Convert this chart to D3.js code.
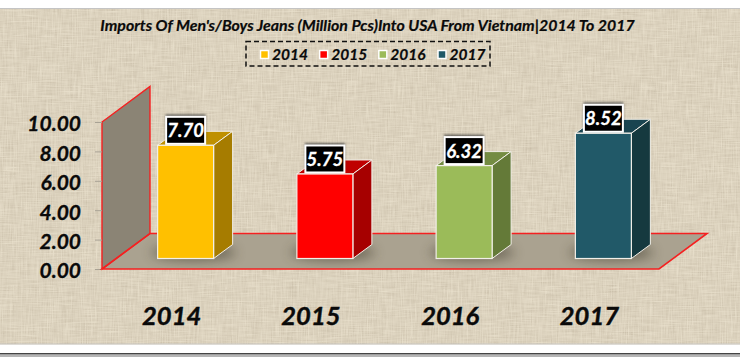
<!DOCTYPE html>
<html>
<head>
<meta charset="utf-8">
<script src="https://cdn.jsdelivr.net/npm/d3@7"></script>
<style>
html, body { margin: 0; padding: 0; background: #fff; overflow: hidden; }
svg { display: block; }
text { font-family: Lato, "Open Sans", sans-serif; font-weight: 700; font-style: italic; fill: #0a0a0a; }
</style>
</head>
<body>
<svg width="740" height="357"></svg>
<script>
// Chart data
var years = ['2014', '2015', '2016', '2017'];
var imports = [7.70, 5.75, 6.32, 8.52];
var colors = ['#ffc000', '#ff0000', '#9bbb59', '#215968'];
var sideColors = ['#a67c00', '#a60000', '#647a38', '#15393f'];
var topColors = ['#bf9000', '#bf0000', '#748c42', '#1a4450'];
var yTicks = [0, 2, 4, 6, 8, 10];
var titleText = "Imports Of Men's/Boys Jeans (Million Pcs)Into USA From Vietnam|2014 To 2017";

var svg = d3.select('svg');
var defs = svg.append('defs');

// Layout parameters
var floorDepth = {x: 48, y: 35.5};
var barDepth = {x: 19, y: 14};
var barOffset = {x: 14, y: 10.5};

var xScale = d3.scaleBand().domain(years).range([102, 659]).paddingInner(0).paddingOuter(0);
var yScale = d3.scaleLinear().domain([0, 10]).range([269, 122]);
var barWidth = 56;

// Linen texture for the background and the walls
var linen = defs.append('filter').attr('id', 'linen')
    .attr('x', 0).attr('y', 0).attr('width', '100%').attr('height', '100%');
linen.append('feTurbulence').attr('type', 'fractalNoise')
    .attr('baseFrequency', '0.05 0.8').attr('numOctaves', 2).attr('seed', 4).attr('result', 'h');
linen.append('feTurbulence').attr('type', 'fractalNoise')
    .attr('baseFrequency', '0.8 0.05').attr('numOctaves', 2).attr('seed', 9).attr('result', 'v');
linen.append('feBlend').attr('in', 'h').attr('in2', 'v').attr('mode', 'multiply').attr('result', 'm');
linen.append('feColorMatrix').attr('in', 'm').attr('type', 'matrix')
    .attr('values', '0 0 0 0 0.5  0 0 0 0 0.43  0 0 0 0 0.32  1.05 0 0 0 -0.2');

var soft = defs.append('filter').attr('id', 'soft')
    .attr('x', '-50%').attr('y', '-100%').attr('width', '200%').attr('height', '300%');
soft.append('feGaussianBlur').attr('stdDeviation', 6);

var labelShadow = defs.append('filter').attr('id', 'labelShadow')
    .attr('x', '-30%').attr('y', '-30%').attr('width', '160%').attr('height', '160%');
labelShadow.append('feGaussianBlur').attr('stdDeviation', 1.2);

// Page frame
svg.append('rect').attr('x', 0).attr('y', 9).attr('width', 740).attr('height', 334.5).attr('fill', '#e6ddc9');
svg.append('rect').attr('x', 0).attr('y', 9).attr('width', 740).attr('height', 334.5)
    .attr('fill', '#000').attr('filter', 'url(#linen)');
svg.append('rect').attr('x', 0).attr('y', 8).attr('width', 740).attr('height', 1).attr('fill', '#c4c4c4');
svg.append('rect').attr('x', 0).attr('y', 343.5).attr('width', 740).attr('height', 1).attr('fill', '#bdb8ab');
svg.append('rect').attr('x', 0).attr('y', 353).attr('width', 740).attr('height', 1.6).attr('fill', '#444');
svg.append('rect').attr('x', 0).attr('y', 354.6).attr('width', 740).attr('height', 2.4).attr('fill', '#b5b5b5');

// Back wall and floor
var x0 = xScale.range()[0], x1 = xScale.range()[1];
var y0 = yScale(0), yTop = yScale(10);

function poly(points) {
    return points.map(function(p) { return p.join(','); }).join(' ');
}

var floorPts = [[x0, y0], [x0 + floorDepth.x, y0 - floorDepth.y], [x1 + floorDepth.x, y0 - floorDepth.y], [x1, y0]];
var wallPts = [[x0, y0], [x0, yTop], [x0 + floorDepth.x, yTop - floorDepth.y], [x0 + floorDepth.x, y0 - floorDepth.y]];

defs.append('clipPath').attr('id', 'floorClip')
    .append('polygon').attr('points', poly(floorPts));

svg.append('polygon').attr('points', poly(floorPts))
    .attr('fill', '#aaa290');
svg.append('polygon').attr('points', poly(wallPts))
    .attr('fill', '#8b8475').attr('stroke', '#f52020').attr('stroke-width', 1.4);

// Axes
var yAxisG = svg.append('g').attr('class', 'y axis')
    .attr('transform', 'translate(' + x0 + ',0)')
    .call(d3.axisLeft(yScale).tickValues(yTicks).tickFormat(d3.format('.2f')).tickSize(7).tickPadding(14));
yAxisG.select('.domain').remove();
yAxisG.selectAll('line').attr('stroke', '#a8a294');
yAxisG.selectAll('text').attr('font-size', 21).attr('fill', '#0a0a0a').attr('dy', '0.42em')
    .attr('stroke', '#0a0a0a').attr('stroke-width', 0.3);

var xAxisG = svg.append('g').attr('class', 'x axis')
    .attr('transform', 'translate(0,' + y0 + ')')
    .call(d3.axisBottom(xScale).tickSize(0).tickPadding(38));
xAxisG.select('.domain').remove();
xAxisG.selectAll('text').attr('font-size', 25.5).attr('fill', '#0a0a0a')
    .attr('stroke', '#0a0a0a').attr('stroke-width', 0.4);

// Bars
var rows = years.map(function(year, i) {
    return {year: year, value: imports[i], color: colors[i], side: sideColors[i], top: topColors[i]};
});

function front(d) {
    var left = xScale(d.year) + xScale.bandwidth() / 2 + barOffset.x - barWidth / 2;
    return {l: left, r: left + barWidth, b: y0 - barOffset.y, t: yScale(d.value) - barOffset.y};
}

// Soft shadow on the floor
svg.append('g')
    .attr('clip-path', 'url(#floorClip)')
    .selectAll('ellipse')
    .data(rows)
    .enter()
    .append('ellipse')
    .attr('cx', function(d) { return front(d).l + barWidth / 2 + 8; })
    .attr('cy', function(d) { return front(d).b - 6; })
    .attr('rx', barWidth / 2 + 14)
    .attr('ry', 8)
    .attr('fill', '#4a4434')
    .attr('opacity', 0.62)
    .attr('filter', 'url(#soft)');

// Red outline goes on top of the floor shadow
svg.append('polygon').attr('points', poly(floorPts))
    .attr('fill', 'none').attr('stroke', '#f52020').attr('stroke-width', 1.6);

var barG = svg.selectAll('.bar')
    .data(rows)
    .enter()
    .append('g')
    .attr('class', 'bar');

barG.append('polygon')
    .attr('points', function(d) {
        var f = front(d);
        return poly([[f.l, f.t], [f.l + barDepth.x, f.t - barDepth.y], [f.r + barDepth.x, f.t - barDepth.y], [f.r, f.t]]);
    })
    .attr('fill', function(d) { return d.top; })
    .attr('stroke', '#f2efe8').attr('stroke-width', 1);

barG.append('polygon')
    .attr('points', function(d) {
        var f = front(d);
        return poly([[f.r, f.t], [f.r + barDepth.x, f.t - barDepth.y], [f.r + barDepth.x, f.b - barDepth.y], [f.r, f.b]]);
    })
    .attr('fill', function(d) { return d.side; })
    .attr('stroke', '#f2efe8').attr('stroke-width', 1);

barG.append('rect')
    .attr('x', function(d) { return front(d).l; })
    .attr('y', function(d) { return front(d).t; })
    .attr('width', barWidth)
    .attr('height', function(d) { return front(d).b - front(d).t; })
    .attr('fill', function(d) { return d.color; })
    .attr('stroke', '#f2efe8').attr('stroke-width', 1.2);

// Value labels
function labelX(d) { return front(d).l + barWidth / 2; }
function labelY(d) { return front(d).t - 15; }

barG.append('rect')
    .attr('x', function(d) { return labelX(d) - 20; })
    .attr('y', function(d) { return labelY(d) - 16; })
    .attr('width', 40)
    .attr('height', 26)
    .attr('fill', '#333')
    .attr('opacity', 0.7)
    .attr('filter', 'url(#labelShadow)');

barG.append('rect')
    .attr('x', function(d) { return labelX(d) - 19.5; })
    .attr('y', function(d) { return labelY(d) - 13.5; })
    .attr('width', 39)
    .attr('height', 27)
    .attr('fill', '#000')
    .attr('stroke', '#fff').attr('stroke-width', 2);

barG.append('text')
    .attr('x', labelX)
    .attr('y', function(d) { return labelY(d) + 7; })
    .attr('text-anchor', 'middle')
    .attr('font-size', 18.5)
    .style('fill', '#fff')
    .attr('stroke', '#fff').attr('stroke-width', 0.3)
    .text(function(d) { return d.value.toFixed(2); });

// Title
svg.append('text')
    .attr('x', 367.5)
    .attr('y', 31)
    .attr('text-anchor', 'middle')
    .attr('font-size', 15.9)
    .attr('stroke', '#0a0a0a').attr('stroke-width', 0.2)
    .text(titleText);

// Legend
svg.append('rect')
    .attr('x', 246).attr('y', 41.5).attr('width', 244).attr('height', 24.5)
    .attr('fill', 'none').attr('stroke', '#111').attr('stroke-width', 1.5).attr('stroke-dasharray', '5,3');

var legendX = d3.scalePoint().domain(years).range([260, 437.5]);

var legendG = svg.selectAll('.legend')
    .data(rows)
    .enter()
    .append('g')
    .attr('class', 'legend')
    .attr('transform', function(d) { return 'translate(' + [legendX(d.year), 50] + ')'; });

legendG.append('rect')
    .attr('x', 0.5).attr('y', 0.5).attr('width', 8).attr('height', 8)
    .attr('fill', function(d) { return d.color; })
    .attr('stroke', '#fff').attr('stroke-width', 1.5);

legendG.append('text')
    .attr('x', 12)
    .attr('y', 9.5)
    .attr('font-size', 15.5)
    .attr('stroke', '#0a0a0a').attr('stroke-width', 0.2)
    .text(function(d) { return d.year; });
</script>
</body>
</html>
